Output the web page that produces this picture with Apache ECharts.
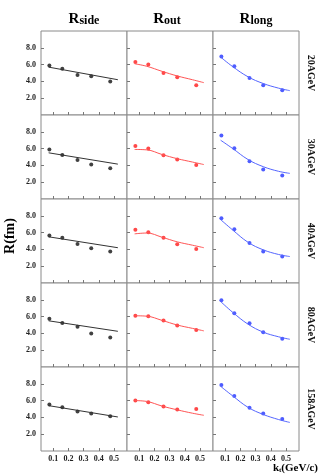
<!DOCTYPE html>
<html>
<head>
<meta charset="utf-8">
<script src="https://cdn.jsdelivr.net/npm/echarts@6/dist/echarts.min.js"></script>
<style>
  html, body { margin: 0; padding: 0; background: #fff; }
  #chart { width: 327px; height: 476px; }
</style>
</head>
<body>
<div id="chart"></div>
<script>
// kt bins of the points and the kt where the fit curves are read
const kt = [0.075, 0.16, 0.26, 0.35, 0.475];
const fitKt = [0.07, 0.15, 0.25, 0.35, 0.45, 0.525];
const energies = ['20AGeV', '30AGeV', '40AGeV', '80AGeV', '158AGeV'];
const xTicks = [0.1, 0.2, 0.3, 0.4, 0.5];
const yTicks = [2, 4, 6, 8];

// Rside (points + straight fit ends)
const rside20 = [5.9, 5.5, 4.75, 4.6, 4.0];
const rside30 = [5.9, 5.25, 4.65, 4.1, 3.65];
const rside40 = [5.65, 5.4, 4.65, 4.15, 3.75];
const rside80 = [5.75, 5.25, 4.8, 4.0, 3.5];
const rside158 = [5.55, 5.2, 4.7, 4.45, 4.15];
const sideFitKt = [0.07, 0.525];
const sideFit20 = [5.7, 4.2];
const sideFit30 = [5.5, 4.15];
const sideFit40 = [5.5, 4.2];
const sideFit80 = [5.5, 4.25];
const sideFit158 = [5.4, 4.05];

// Rout
const rout20 = [6.3, 6.0, 5.0, 4.5, 3.55];
const rout30 = [6.3, 6.0, 5.2, 4.7, 4.05];
const rout40 = [6.35, 6.05, 5.4, 4.6, 4.05];
const rout80 = [6.1, 6.05, 5.55, 4.95, 4.4];
const rout158 = [6.0, 5.8, 5.3, 4.95, 5.0];
const outFit20 = [6.1, 5.8, 5.2, 4.65, 4.2, 3.85];
const outFit30 = [5.9, 5.85, 5.3, 4.8, 4.4, 4.1];
const outFit40 = [5.85, 5.95, 5.45, 4.9, 4.5, 4.2];
const outFit80 = [6.1, 6.05, 5.55, 5.0, 4.6, 4.3];
const outFit158 = [6.0, 5.9, 5.35, 4.9, 4.5, 4.25];

// Rlong
const rlong20 = [6.95, 5.8, 4.4, 3.55, 2.95];
const rlong30 = [7.55, 6.05, 4.5, 3.5, 2.8];
const rlong40 = [7.7, 6.4, 4.75, 3.75, 3.15];
const rlong80 = [7.95, 6.4, 5.2, 4.15, 3.35];
const rlong158 = [7.85, 6.55, 5.15, 4.45, 3.8];
const longFit20 = [6.9, 5.75, 4.55, 3.75, 3.2, 2.9];
const longFit30 = [7.0, 6.0, 4.7, 3.85, 3.3, 3.05];
const longFit40 = [7.55, 6.3, 4.85, 3.95, 3.4, 3.15];
const longFit80 = [7.8, 6.5, 5.1, 4.15, 3.6, 3.3];
const longFit158 = [7.7, 6.55, 5.2, 4.35, 3.75, 3.4];

const panels = [
  // [points, fit x, fit y] per column
  [[rside20, sideFitKt, sideFit20], [rout20, fitKt, outFit20], [rlong20, fitKt, longFit20]],
  [[rside30, sideFitKt, sideFit30], [rout30, fitKt, outFit30], [rlong30, fitKt, longFit30]],
  [[rside40, sideFitKt, sideFit40], [rout40, fitKt, outFit40], [rlong40, fitKt, longFit40]],
  [[rside80, sideFitKt, sideFit80], [rout80, fitKt, outFit80], [rlong80, fitKt, longFit80]],
  [[rside158, sideFitKt, sideFit158], [rout158, fitKt, outFit158], [rlong158, fitKt, longFit158]]
];
const colors = ['#111111', '#ff1a1a', '#2233ff'];
const lineColors = ['#333333', '#ff5555', '#5566ff'];

const chart = echarts.init(document.getElementById('chart'));
const serif = 'Liberation Serif';
const gridLeft = 41, gridTop = 31, cellW = 86, cellH = 84;

const grid = [], xAxis = [], yAxis = [], series = [];
let idx = 0;
for (let r = 0; r < 5; r++) {
  for (let c = 0; c < 3; c++) {
    grid.push({
      left: gridLeft + c * cellW, top: gridTop + r * cellH,
      width: cellW, height: cellH,
      show: true, borderColor: '#8a8a8a', borderWidth: 1, backgroundColor: '#fff'
    });
    xAxis.push({
      gridIndex: idx, type: 'value', min: 0.02, max: 0.585,
      axisLine: { show: false },
      splitLine: { show: false },
      axisTick: { show: true, inside: true, length: 3, customValues: xTicks, lineStyle: { color: '#777' } },
      axisLabel: {
        show: r === 4, customValues: xTicks, margin: 4,
        fontFamily: serif, fontWeight: 'bold', fontSize: 8, color: '#222',
        formatter: v => v.toFixed(1)
      }
    });
    yAxis.push({
      gridIndex: idx, type: 'value', min: 0, max: 10,
      axisLine: { show: false },
      splitLine: { show: false },
      axisTick: { show: true, inside: true, length: 3, customValues: yTicks, lineStyle: { color: '#777' } },
      axisLabel: {
        show: c === 0, customValues: yTicks, margin: 5,
        fontFamily: serif, fontWeight: 'bold', fontSize: 8, color: '#222',
        formatter: v => v.toFixed(1)
      }
    });
    const p = panels[r][c];
    series.push({
      type: 'line', xAxisIndex: idx, yAxisIndex: idx,
      data: p[1].map((x, i) => [x, p[2][i]]),
      smooth: c === 0 ? false : 0.4, showSymbol: false,
      lineStyle: { color: lineColors[c], width: 1 },
      silent: true
    });
    series.push({
      type: 'scatter', xAxisIndex: idx, yAxisIndex: idx,
      data: kt.map((x, i) => [x, p[0][i]]),
      symbol: 'circle', symbolSize: 4,
      itemStyle: { color: colors[c] },
      silent: true
    });
    idx++;
  }
}

const graphic = [];
const titles = [['R', 'side', 84], ['R', 'out', 167], ['R', 'long', 256]];
titles.forEach(t => {
  graphic.push({
    type: 'text', x: t[2], y: 19,
    style: {
      text: '{a|' + t[0] + '}{b|' + t[1] + '}',
      align: 'center', verticalAlign: 'middle',
      rich: {
        a: { fontFamily: serif, fontWeight: 'bold', fontSize: 15, fill: '#000' },
        b: { fontFamily: serif, fontWeight: 'bold', fontSize: 12, fill: '#000', padding: [3, 0, 0, 0] }
      }
    }
  });
});
energies.forEach((e, r) => {
  graphic.push({
    type: 'text', x: 311, y: gridTop + r * cellH + cellH / 2,
    rotation: -Math.PI / 2,
    style: {
      text: e, align: 'center', verticalAlign: 'middle',
      fontFamily: serif, fontWeight: 'bold', fontSize: 10, fill: '#111'
    }
  });
});
graphic.push({
  type: 'text', x: 10, y: 236, rotation: Math.PI / 2,
  style: {
    text: 'R(fm)', align: 'center', verticalAlign: 'middle',
    fontFamily: serif, fontWeight: 'bold', fontSize: 14, fill: '#000'
  }
});
graphic.push({
  type: 'text', x: 318, y: 468,
  style: {
    text: '{a|k}{b|t}{a|(GeV/c)}', align: 'right', verticalAlign: 'middle',
    rich: {
      a: { fontFamily: serif, fontWeight: 'bold', fontSize: 11, fill: '#000' },
      b: { fontFamily: serif, fontWeight: 'bold', fontSize: 7, fill: '#000', padding: [5, 0, 0, 0] }
    }
  }
});

chart.setOption({
  animation: false,
  backgroundColor: '#fff',
  grid: grid,
  xAxis: xAxis,
  yAxis: yAxis,
  series: series,
  graphic: graphic
});
</script>
</body>
</html>
